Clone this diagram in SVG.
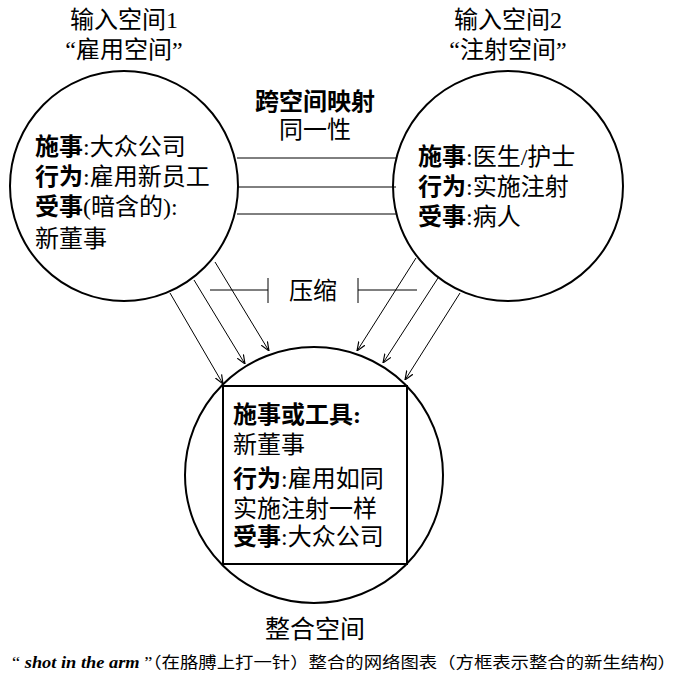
<svg xmlns="http://www.w3.org/2000/svg" width="687" height="680" viewBox="0 0 687 680">
<style>
text{font-family:"Liberation Serif","Noto Sans CJK SC",serif;fill:#000}
.t{font-size:24px}
.b{font-weight:bold}
.s{fill:none;stroke:#000;stroke-width:2}
.l{stroke:#000;stroke-width:1}
</style>
<defs><marker id="a" viewBox="0 0 10 10" refX="10" refY="5" markerWidth="9" markerHeight="9" orient="auto" markerUnits="userSpaceOnUse"><path d="M0,1 L10,5 L0,9" fill="none" stroke="#000" stroke-width="1.3"/></marker></defs>
<rect width="687" height="680" fill="#fff"/>
<g id="space1">
<ellipse class="s" cx="124" cy="186" rx="114" ry="115"/>
<text class="t" x="124" y="28" text-anchor="middle">输入空间1</text>
<text class="t" x="124" y="58" text-anchor="middle">“雇用空间”</text>
<text class="t" x="35" y="155"><tspan class="b">施事</tspan>:大众公司</text>
<text class="t" x="35" y="185"><tspan class="b">行为</tspan>:雇用新员工</text>
<text class="t" x="35" y="215"><tspan class="b">受事</tspan>(暗含的):</text>
<text class="t" x="35" y="247">新董事</text>
</g>
<g id="space2">
<ellipse class="s" cx="508" cy="186" rx="115" ry="115"/>
<text class="t" x="508" y="28" text-anchor="middle">输入空间2</text>
<text class="t" x="508" y="58" text-anchor="middle">“注射空间”</text>
<text class="t" x="418" y="165"><tspan class="b">施事</tspan>:医生/护士</text>
<text class="t" x="418" y="195"><tspan class="b">行为</tspan>:实施注射</text>
<text class="t" x="418" y="225"><tspan class="b">受事</tspan>:病人</text>
</g>
<g id="blend">
<ellipse class="s" cx="314" cy="475" rx="129" ry="128"/>
<rect class="s" x="223" y="386" width="184" height="178"/>
<text class="t" x="233" y="423"><tspan class="b">施事或工具:</tspan></text>
<text class="t" x="233" y="453">新董事</text>
<text class="t" x="233" y="487"><tspan class="b">行为</tspan>:雇用如同</text>
<text class="t" x="233" y="517">实施注射一样</text>
<text class="t" x="233" y="545"><tspan class="b">受事</tspan>:大众公司</text>
<text x="315" y="638" font-size="25" text-anchor="middle">整合空间</text>
</g>
<g id="connectors">
<line class="l" x1="237" y1="158" x2="396" y2="158"/>
<line class="l" x1="237" y1="187" x2="396" y2="187"/>
<line class="l" x1="237" y1="214" x2="396" y2="214"/>
<text class="t b" x="315" y="110" text-anchor="middle">跨空间映射</text>
<text class="t" x="315" y="138" text-anchor="middle">同一性</text>
<line class="l" x1="210" y1="290" x2="268" y2="290"/>
<line class="l" x1="268" y1="278" x2="268" y2="303"/>
<line class="l" x1="358" y1="290" x2="417" y2="290"/>
<line class="l" x1="358" y1="278" x2="358" y2="303"/>
<text class="t" x="313" y="299" text-anchor="middle">压缩</text>
<line class="l" x1="170" y1="293" x2="223" y2="384" marker-end="url(#a)"/>
<line class="l" x1="194" y1="280" x2="245" y2="364" marker-end="url(#a)"/>
<line class="l" x1="215" y1="262" x2="269" y2="351" marker-end="url(#a)"/>
<line class="l" x1="416" y1="258" x2="357" y2="351" marker-end="url(#a)"/>
<line class="l" x1="438" y1="278" x2="383" y2="363" marker-end="url(#a)"/>
<line class="l" x1="460" y1="293" x2="405" y2="380" marker-end="url(#a)"/>
</g>
<text x="12" y="668" font-size="16" textLength="664" lengthAdjust="spacingAndGlyphs">“ <tspan font-style="italic" font-weight="bold">shot in the arm</tspan> ”（在胳膊上打一针）整合的网络图表（方框表示整合的新生结构）</text>
</svg>
